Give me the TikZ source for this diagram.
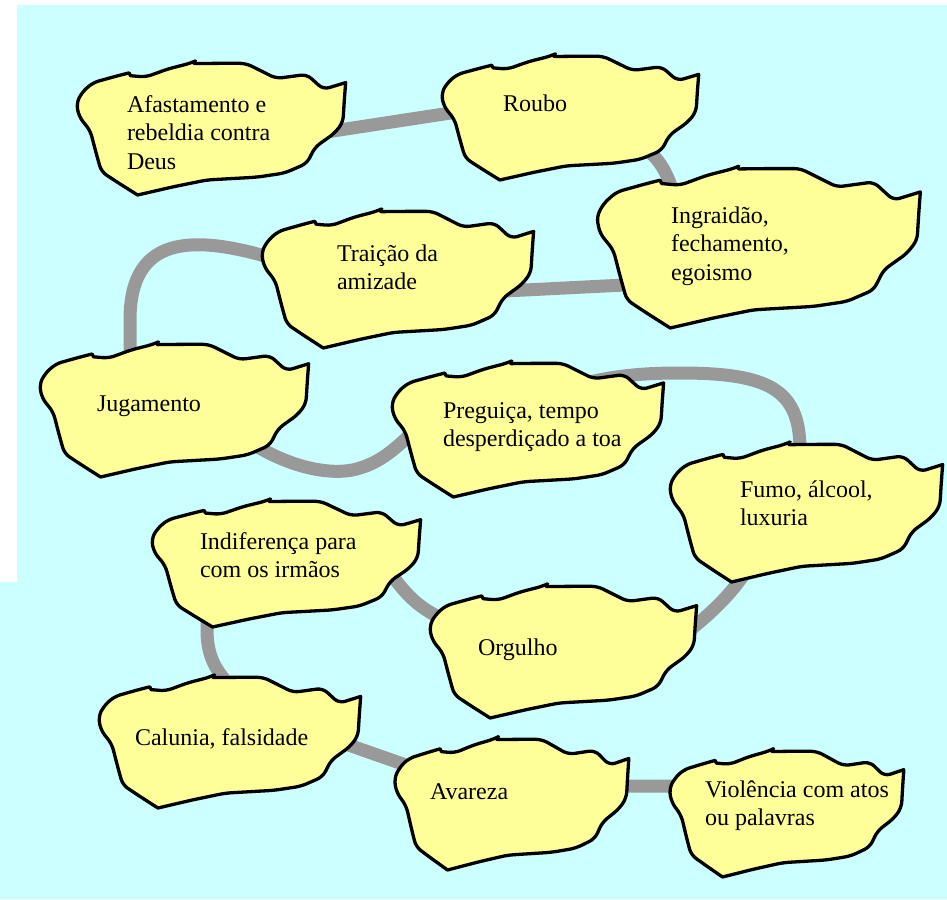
\documentclass[tikz,border=0pt]{standalone}
\usepackage{fontspec}
\setmainfont{Liberation Serif}
\usetikzlibrary{calc}
\definecolor{bgcyan}{HTML}{CCFFFF}
\definecolor{cloudfill}{HTML}{FFFF99}
\definecolor{conngray}{HTML}{999999}
\pgfdeclarelayer{bglayer}
\pgfdeclarelayer{connlayer}
\pgfsetlayers{bglayer,connlayer,main}
\newcommand{\mlines}[1]{\begin{tabular}[t]{@{}l@{}}#1\end{tabular}}
\newcommand{\cloudat}[5]{%
  \node[boxsty, minimum width=#4pt, minimum height=#5pt] (#1) at ({#2+#4/2},{#3+#5/2}) {};
  \begin{scope}[shift={(#2,#3)}, xscale=#4, yscale=#5]
    \path[cloudsty, rounded corners=6pt] (0.005,0.31) -- (0.026,0.227) -- (0.066,0.155) -- (0.158,0.103)
      [sharp corners] -- (0.199,0.082) -- (0.204,0.103) [rounded corners=6pt] -- (0.26,0.113) -- (0.342,0.052)
      -- (0.423,0.01) [sharp corners] -- (0.434,0.0) -- (0.44,0.012) [rounded corners=6pt] -- (0.526,0.01) -- (0.628,0.01)
      -- (0.74,0.124) -- (0.852,0.093) -- (0.913,0.206) [sharp corners] -- (0.995,0.155) [rounded corners=6pt]
      -- (0.99,0.289) -- (0.985,0.454) -- (0.954,0.536) -- (0.883,0.639) -- (0.852,0.763) -- (0.77,0.835)
      -- (0.668,0.866) -- (0.485,0.887) -- (0.362,0.938) [sharp corners] -- (0.23,1.0) [rounded corners=6pt]
      -- (0.158,0.907) -- (0.097,0.825) -- (0.077,0.68) -- (0.056,0.515) -- (0.015,0.412) -- cycle;
  \end{scope}}
\tikzset{
  boxsty/.style={inner sep=0pt, outer sep=0pt, draw=none, rectangle},
  cloudsty/.style={draw=black, fill=cloudfill, line width=3.3pt, line join=round},
  conn/.style={draw=conngray, line width=13pt},
  txt/.style={anchor=base west, inner sep=0pt, outer sep=0pt, text=black, font=\fontsize{24}{28.5}\selectfont},
}
\begin{document}
\begin{tikzpicture}[x=1pt, y=-1pt]
\useasboundingbox (0,0) rectangle (947,899);
\begin{pgfonlayer}{bglayer}
  \fill[white] (0,0) rectangle (947,899);
  \fill[bgcyan] (17,5) rectangle (947,899);
  \fill[bgcyan] (0,582) rectangle (17,899);
\end{pgfonlayer}

\cloudat{afast}{75}{62}{272}{133}
\cloudat{roubo}{440}{55}{260}{125}
\cloudat{ingr}{595}{167}{327}{161}
\cloudat{trai}{260}{210}{275}{138}
\cloudat{juga}{38}{343}{272}{134}
\cloudat{preg}{390}{362}{275}{135}
\cloudat{fumo}{668}{443}{276}{139}
\cloudat{indif}{150}{500}{272}{127}
\cloudat{orgu}{428}{585}{270}{133}
\cloudat{calu}{97}{676}{265}{132}
\cloudat{avar}{393}{738}{237}{132}
\cloudat{viol}{668}{750}{237}{127}

\node[txt] (t1) at (127,112) {\mlines{Afastamento e\\rebeldia contra\\Deus}};
\node[txt] (t2) at (503,111) {Roubo};
\node[txt] (t3) at (671,223) {\mlines{Ingraidão,\\fechamento,\\egoismo}};
\node[txt] (t4) at (337,261) {\mlines{Traição da\\amizade}};
\node[txt] (t5) at (97,411) {Jugamento};
\node[txt] (t6) at (443,418) {\mlines{Preguiça, tempo\\desperdiçado a toa}};
\node[txt] (t7) at (740,497) {\mlines{Fumo, álcool,\\luxuria}};
\node[txt] (t8) at (200,549) {\mlines{Indiferença para\\com os irmãos}};
\node[txt] (t9) at (478,655) {Orgulho};
\node[txt] (t10) at (135,745) {Calunia, falsidade};
\node[txt] (t11) at (430,799) {Avareza};
\node[txt] (t12) at (705,797) {\mlines{Violência com atos\\ou palavras}};

\begin{pgfonlayer}{connlayer}
  \draw[conn] (afast.center) -- (320,133) -- (470,110) -- (roubo.center);
  \draw[conn] (roubo.center) -- (630,140) .. controls (655,150) and (668,170) .. (675,200) -- (ingr.center);
  \draw[conn] (trai.center) -- (505,291) -- (625,285) -- (ingr.center);
  \draw[conn] (trai.center) -- (285,262) .. controls (200,235) and (130,230) .. (130,320) -- (130,380) -- (juga.center);
  \draw[conn] (juga.center) -- (240,435) .. controls (280,465) and (330,478) .. (360,468) .. controls (380,462) and (395,450) .. (420,425) -- (preg.center);
  \draw[conn] (preg.center) -- (560,390) .. controls (600,378) and (630,373) .. (680,373) .. controls (770,373) and (800,390) .. (800,450) -- (fumo.center);
  \draw[conn] (fumo.center) -- (750,565) .. controls (735,590) and (715,610) .. (690,630) -- (orgu.center);
  \draw[conn] (indif.center) -- (385,565) .. controls (405,595) and (420,610) .. (450,622) -- (orgu.center);
  \draw[conn] (indif.center) -- (207,600) -- (207,630) .. controls (207,655) and (215,672) .. (235,690) -- (calu.center);
  \draw[conn] (calu.center) -- (320,735) -- (420,770) -- (avar.center);
  \draw[conn] (avar.center) -- (600,786) -- (690,786) -- (viol.center);
\end{pgfonlayer}
\end{tikzpicture}
\end{document}
